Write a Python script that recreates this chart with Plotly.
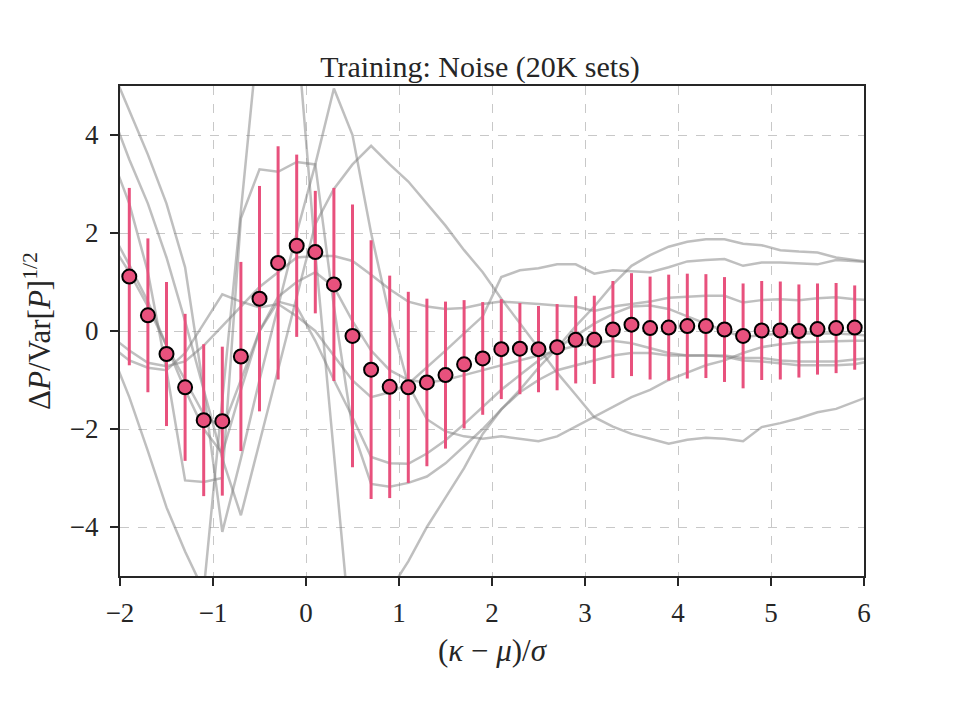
import plotly.graph_objects as go

# ---- mean + error bars ----
x_pts = [-1.9, -1.7, -1.5, -1.3, -1.1, -0.9, -0.7, -0.5, -0.3, -0.1,
         0.1, 0.3, 0.5, 0.7, 0.9, 1.1, 1.3, 1.5, 1.7, 1.9,
         2.1, 2.3, 2.5, 2.7, 2.9, 3.1, 3.3, 3.5, 3.7, 3.9,
         4.1, 4.3, 4.5, 4.7, 4.9, 5.1, 5.3, 5.5, 5.7, 5.9]
y_mean = [1.11, 0.32, -0.47, -1.15, -1.82, -1.84, -0.52, 0.66, 1.39, 1.74,
          1.61, 0.95, -0.10, -0.79, -1.14, -1.15, -1.05, -0.90, -0.68, -0.56,
          -0.37, -0.36, -0.37, -0.33, -0.18, -0.18, 0.03, 0.13, 0.06, 0.07,
          0.10, 0.10, 0.03, -0.10, 0.01, 0.01, 0.00, 0.04, 0.06, 0.07]
y_err = [1.81, 1.57, 1.47, 1.50, 1.55, 1.52, 1.93, 2.30, 2.38, 1.86,
         1.25, 1.97, 2.68, 2.64, 2.27, 1.95, 1.71, 1.50, 1.31, 1.15,
         1.02, 0.93, 0.88, 0.88, 0.89, 0.90, 0.99, 1.05, 1.05, 1.08,
         1.07, 1.06, 1.07, 1.07, 1.01, 1.00, 0.95, 0.93, 0.92, 0.86]

# ---- individual realisations (gray lines) ----
x_lines = [-2.1, -1.9, -1.7, -1.5, -1.3, -1.1, -0.9, -0.7, -0.5, -0.3, -0.1,
           0.1, 0.3, 0.5, 0.7, 0.9, 1.1, 1.3, 1.5, 1.7, 1.9,
           2.1, 2.3, 2.5, 2.7, 2.9, 3.1, 3.3, 3.5, 3.7, 3.9,
           4.1, 4.3, 4.5, 4.7, 4.9, 5.1, 5.3, 5.5, 5.7, 5.9, 6.1]
line_p = [5.4, 4.5, 3.6, 2.6, 1.3, -1.2, -4.1, -2.6, -1.0, 0.5, 2.0,
          3.4, 4.95, 4.0, 2.0, 0.3, -1.1, -1.8, -2.05, -2.15, -2.2,
          -2.15, -2.2, -2.25, -2.15, -1.95, -1.75, -1.55, -1.35, -1.2, -1.0,
          -0.85, -0.7, -0.6, -0.45, -0.33, -0.27, -0.23, -0.22, -0.2, -0.2, -0.2]
line_g = [4.5, 3.5, 2.6, 1.5, 0.2, -1.2, -2.6, -3.76, -2.26, -0.76, 0.74,
          2.18, 2.9, 3.4, 3.78, 3.4, 3.05, 2.6, 2.15, 1.65, 1.2,
          0.66, 0.15, -0.35, -0.85, -1.3, -1.76, -1.95, -2.1, -2.2, -2.3,
          -2.22, -2.18, -2.2, -2.25, -1.96, -1.88, -1.78, -1.66, -1.59, -1.45, -1.3]
line_a = [-0.4, -1.35, -2.45, -3.6, -4.5, -5.3, -1.4, 2.5, 6.3, 10.0, 6.2,
          1.6, -2.5, -6.6, -7.5, -5.3, -4.7, -4.0, -3.4, -2.8, -2.1,
          -1.6, -1.25, -1.0, -0.8, -0.7, -0.6, -0.5, -0.45, -0.45, -0.5,
          -0.5, -0.5, -0.52, -0.6, -0.62, -0.66, -0.7, -0.7, -0.7, -0.68, -0.6]
line_r = [3.6, 2.6, 1.2, -0.8, -3.05, -3.08, -3.0, 2.3, 3.3, 3.25, 3.45,
          3.4, 0.5, -2.0, -3.12, -3.18, -3.1, -2.97, -2.7, -2.35, -2.0,
          -1.6, -1.2, -0.75, -0.35, 0.1, 0.5, 0.95, 1.33, 1.55, 1.72,
          1.82, 1.87, 1.87, 1.78, 1.75, 1.65, 1.62, 1.6, 1.5, 1.45, 1.4]
line_h = [2.05, 1.35, 0.6, -0.3, -1.2, -2.0, -2.5, -1.2, 0.0, 0.6, 0.5,
          -0.2, -1.0, -1.76, -2.57, -2.7, -2.71, -2.5, -2.23, -1.9, -1.55,
          -1.2, -0.9, -0.6, -0.35, -0.1, 0.15, 0.35, 0.5, 0.52, 0.45,
          0.3, 0.15, 0.0, -0.12, -0.08, -0.05, -0.05, -0.05, -0.05, -0.07, -0.1]
line_q = [-0.1, -0.4, -0.65, -0.72, -0.62, -0.3, 0.1, 0.5, 0.9, 1.2, 1.5,
          1.53, 1.53, 1.43, 1.15, 0.85, 0.6, 0.5, 0.45, 0.47, 0.55,
          0.6, 0.58, 0.55, 0.52, 0.5, 0.41, 0.5, 0.55, 0.6, 0.68,
          0.7, 0.72, 0.72, 0.58, 0.63, 0.65, 0.63, 0.67, 0.69, 0.65, 0.63]
line_k = [-0.3, -0.6, -0.75, -0.8, -0.45, 0.15, 0.75, 0.6, 0.48, 0.55, 0.3,
          0.0, -0.5, -1.01, -1.35, -1.25, -1.08, -0.75, -0.4, -0.05, 0.3,
          1.1, 1.24, 1.28, 1.36, 1.36, 1.17, 1.24, 1.22, 1.2, 1.3,
          1.42, 1.45, 1.47, 1.33, 1.4, 1.4, 1.38, 1.36, 1.45, 1.42, 1.4]
line_z = [1.8, 1.2, 0.5, -0.3, -1.0, -1.7, -2.0, -1.0, 0.0, 0.7, 1.0,
          1.2, 0.9, 0.2, -0.4, -0.8, -1.0, -1.05, -1.0, -0.9, -0.8,
          -0.7, -0.6, -0.5, -0.4, -0.3, -0.25, -0.2, -0.25, -0.35, -0.45,
          -0.5, -0.5, -0.5, -0.55, -0.55, -0.6, -0.62, -0.62, -0.62, -0.58, -0.55]
gray_lines = [line_p, line_g, line_a, line_r, line_h, line_q, line_k, line_z]

title_text = "Training: Noise (20K sets)"
x_title = "(<i>κ</i> − <i>μ</i>)/<i>σ</i>"
y_title = "Δ<i>P</i>/Var[<i>P</i>]<sup>1/2</sup>"
x_ticks = [-2, -1, 0, 1, 2, 3, 4, 5, 6]
y_ticks = [-4, -2, 0, 2, 4]

PINK = "#e8517d"
INK = "#262626"
FONT = "Liberation Serif"

fig = go.Figure()
for ys in gray_lines:
    fig.add_trace(go.Scatter(
        x=x_lines, y=ys, mode="lines",
        line=dict(color="rgba(128,128,128,0.5)", width=2.5),
        hoverinfo="skip", showlegend=False))

fig.add_trace(go.Scatter(
    x=x_pts, y=y_mean, mode="markers",
    marker=dict(size=14, color=PINK, line=dict(color="black", width=2)),
    error_y=dict(type="data", array=y_err, visible=True,
                 color=PINK, thickness=3, width=0),
    showlegend=False))

axis_common = dict(
    showline=True, mirror=True, linecolor=INK, linewidth=2,
    ticks="outside", ticklen=8, tickwidth=2, tickcolor=INK,
    showgrid=True, gridcolor="#c8c8c8", griddash="dash", gridwidth=1.3,
    zeroline=False,
    tickfont=dict(family=FONT, size=27, color=INK),
)

fig.update_layout(
    width=960, height=720,
    margin=dict(l=120, r=96, t=86, b=144),
    paper_bgcolor="white", plot_bgcolor="white",
    title=dict(text=title_text, x=0.5, xanchor="center",
               y=1 - 66 / 720, yanchor="middle", yref="container",
               font=dict(family=FONT, size=30, color=INK)),
    xaxis=dict(range=[-2, 6], tickvals=x_ticks, ticklabelstandoff=4,
               title=dict(text=x_title, standoff=12,
                          font=dict(family=FONT, size=31, color=INK)),
               **axis_common),
    yaxis=dict(range=[-5, 5], tickvals=y_ticks, ticklabelstandoff=6,
               title=dict(text=y_title, standoff=10,
                          font=dict(family=FONT, size=31, color=INK)),
               **axis_common),
)

fig.write_html("out.html")
